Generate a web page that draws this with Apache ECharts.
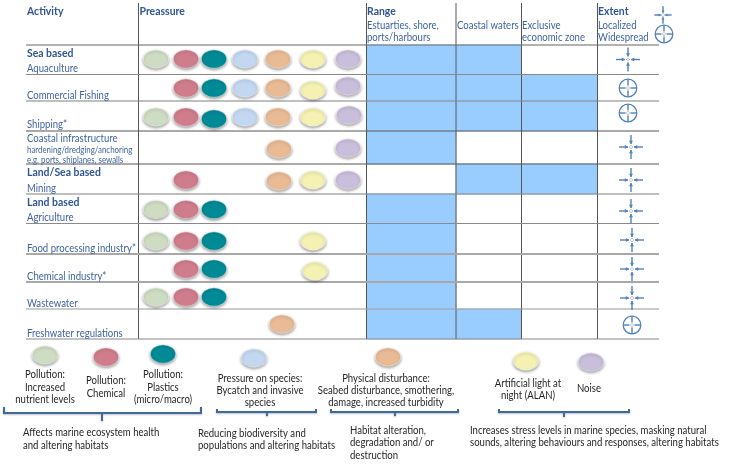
<!DOCTYPE html>
<html>
<head>
<meta charset="utf-8">
<title>Activities and pressures</title>
<style>
    html, body { margin: 0; padding: 0; background: #fff; }
    #main { width: 746px; height: 467px; }
</style>
<script src="https://cdn.jsdelivr.net/npm/echarts@6/dist/echarts.min.js"></script>
</head>
<body>
<div id="main"></div>
<script>
// table content, one entry per row
var activities = ['Aquaculture', 'Commercial Fishing', 'Shipping*', 'Coastal infrastructure', 'Mining',
    'Agriculture', 'Food processing industry*', 'Chemical industry*', 'Wastewater', 'Freshwater regulations'];
var extent = ['L', 'W', 'W', 'L', 'L', 'L', 'L', 'L', 'L', 'W'];

// pressures per activity (1 = applies)
var nutrients = [1, 0, 1, 0, 0, 1, 1, 0, 1, 0];
var chemical  = [1, 1, 1, 0, 1, 1, 1, 1, 1, 0];
var plastics  = [1, 1, 1, 0, 0, 1, 1, 1, 1, 0];
var species   = [1, 1, 1, 0, 0, 0, 0, 0, 0, 0];
var physical  = [1, 1, 1, 1, 1, 0, 0, 0, 0, 1];
var light     = [1, 1, 1, 0, 1, 0, 1, 1, 0, 0];
var noise     = [1, 1, 1, 1, 1, 0, 0, 0, 0, 0];

// range per activity
var rangeEstuaries = [1, 1, 1, 1, 0, 1, 1, 1, 1, 1];
var rangeCoastal   = [1, 1, 1, 0, 1, 0, 0, 0, 0, 1];
var rangeEez       = [0, 1, 1, 0, 1, 0, 0, 0, 0, 0];

// layout of the sheet, in page units
var colEdges = [26, 138.5, 366.5, 456, 521.5, 597.5, 659];
var rowEdges = [45, 74.5, 101, 131, 164, 194, 223.5, 254, 282, 309, 339];
var rowLines = ['#666', '#8a8a8a', '#808080', '#555', '#555', '#808080', '#8a8a8a', '#a8a8a8', '#a8a8a8', '#999', '#888'];
var rowWidths = [1.2, 1.2, 1.2, 1, 1, 1.2, 1.2, 2, 2, 1.2, 1.2];

var seriesColors = ['#cddcc2', '#cf7d8d', '#008a96', '#c3d7f0', '#e9bb95', '#f4f1b2', '#c9bedb'];
var seriesX = [156, 186, 214, 245, 278, 313, 348];
var dotY = [59, 88, 117, 148, 180, 209.5, 241, 269, 297, 324];
var legendX = [45, 106, 163, 254, 388, 526, 591];
var legendY = [355, 357, 354, 358, 357, 361, 362];
// the dots are hand placed in the source, these ones sit off their column or row: 'row,pressure': [dx, dy]
var dotNudge = { '2,2': [0, 2], '1,5': [0, 2], '1,6': [0, -2], '2,6': [1, -2], '7,5': [2, 2], '9,4': [4, 0], '3,4': [1, 1], '4,4': [1, 1] };

var pressures = [nutrients, chemical, plastics, species, physical, light, noise];
var ranges = [rangeEstuaries, rangeCoastal, rangeEez];
var BLUE = '#2f5597';
var SOFT = '#3f62a3';
var INK = '#262626';
var ICON = '#4f81bd';

var chart = echarts.init(document.getElementById('main'));

function buildTexts() {
    var out = [];
    function add(x, y, text, color, font, align, squeeze) {
        out.push({
            type: 'text', silent: true, z: 20,
            x: x, y: y, scaleX: squeeze || 0.87,
            style: {
                x: 0, y: 0, text: text, fill: color, font: font,
                align: align || 'left', verticalAlign: 'middle',
                textAlign: align || 'left', textVerticalAlign: 'middle'
            }
        });
    }
    var bold = 'bold 12px Lato', reg = '11px Lato', small = '9.5px Lato';
    add(27, 11, 'Activity', BLUE, bold);
    add(139.5, 11, 'Preassure', BLUE, bold);
    add(367, 11, 'Range', BLUE, bold);
    add(598, 11, 'Extent', BLUE, bold);
    add(367, 25, 'Estuarties, shore,', SOFT, reg);
    add(367, 37, 'ports/harbours', SOFT, reg);
    add(457, 25, 'Coastal waters', SOFT, reg);
    add(522, 25, 'Exclusive', SOFT, reg);
    add(522, 37, 'economic zone', SOFT, reg);
    add(598, 25, 'Localized', SOFT, reg);
    add(598, 37, 'Widespread', SOFT, reg);

    add(27, 53, 'Sea based', BLUE, bold);
    add(27, 172, 'Land/Sea based', BLUE, bold);
    add(27, 202, 'Land based', BLUE, bold);
    var labelY = [68, 95, 124.5, 138, 188, 217, 248, 276, 303, 333];
    activities.forEach(function (name, i) {
        add(27, labelY[i], name, SOFT, reg);
    });
    add(27, 150, 'hardening/dredging/anchoring', SOFT, small, 'left', 0.83);
    add(27, 160, 'e.g. ports, shiplanes, sewalls', SOFT, small, 'left', 0.83);

    add(45, 374.5, 'Pollution:', INK, reg, 'center');
    add(45, 387, 'Increased', INK, reg, 'center');
    add(45, 399, 'nutrient levels', INK, reg, 'center');
    add(106, 380, 'Pollution:', INK, reg, 'center');
    add(106, 393, 'Chemical', INK, reg, 'center');
    add(163, 374.5, 'Pollution:', INK, reg, 'center');
    add(163, 387, 'Plastics', INK, reg, 'center');
    add(163, 399, '(micro/macro)', INK, reg, 'center');
    add(260, 378, 'Pressure on species:', INK, reg, 'center');
    add(260, 390, 'Bycatch and invasive', INK, reg, 'center');
    add(260, 402, 'species', INK, reg, 'center');
    add(386, 378, 'Physical disturbance:', INK, reg, 'center');
    add(386, 390, 'Seabed disturbance, smothering,', INK, reg, 'center');
    add(386, 402, 'damage, increased turbidity', INK, reg, 'center');
    add(528, 383, 'Artificial light at', INK, reg, 'center');
    add(528, 395, 'night (ALAN)', INK, reg, 'center');
    add(589, 388, 'Noise', INK, reg, 'center');

    add(23, 432, 'Affects marine ecosystem health', INK, reg);
    add(23, 445, 'and altering habitats', INK, reg);
    add(198, 433.5, 'Reducing biodiversity and', INK, reg);
    add(198, 445.5, 'populations and altering habitats', INK, reg);
    add(350, 430, 'Habitat alteration,', INK, reg);
    add(350, 442, 'degradation and/ or', INK, reg);
    add(350, 455, 'destruction', INK, reg);
    add(470, 430, 'Increases stress levels in marine species, masking natural', INK, reg);
    add(470, 442, 'sounds, altering behaviours and responses, altering habitats', INK, reg);
    return out;
}

// blue cells of the range columns
var cellData = [];
ranges.forEach(function (values, c) {
    values.forEach(function (on, r) {
        if (on) {
            cellData.push([colEdges[c + 2], colEdges[c + 3], rowEdges[r], rowEdges[r + 1]]);
        }
    });
});

// table rules: [x0, y0, x1, y1, color, width]
var lineData = [];
colEdges.slice(1, 6).forEach(function (x) {
    lineData.push([x, 3, x, 339, '#555', 1]);
});
rowEdges.forEach(function (y, i) {
    lineData.push([colEdges[0], y, colEdges[6], y, rowLines[i], rowWidths[i]]);
});

// brackets under the key: [x0, x1, tickX, y, tickEnd]
var brackets = [
    [4, 201, 102, 413, 421],
    [217, 316, 267, 412, 416],
    [331, 458, 395, 412, 416],
    [499, 629, 564, 412, 417]
];

// extent icons: [x, y, type, scale]
var iconX = [628, 628, 628, 631, 631, 631, 632, 632, 632, 632];
var iconY = [59.5, 88, 113, 147, 180, 211, 240, 269, 298, 325];
var iconData = extent.map(function (t, i) {
    return [iconX[i], iconY[i], t === 'L' ? 0 : 1, 1];
});
iconData.push([663, 15, 0, 0.72]);
iconData.push([664, 34, 1, 1]);

function renderIcon(params, api) {
    var p = api.coord([api.value(0), api.value(1)]);
    var wide = api.value(2) === 1;
    var k = api.value(3);
    var style = { stroke: ICON, lineWidth: 1.4, fill: null };
    var children = [];
    var reach = (wide ? 8.5 : 12) * k;
    var near = (wide ? 2.5 : 3) * k;
    [[0, -1], [0, 1], [-1, 0], [1, 0]].forEach(function (d) {
        children.push({
            type: 'line',
            shape: { x1: p[0] + d[0] * reach, y1: p[1] + d[1] * reach, x2: p[0] + d[0] * near, y2: p[1] + d[1] * near },
            style: style
        });
        // arrow head pointing at the middle
        if (!wide) {
            var tx = p[0] + d[0] * near, ty = p[1] + d[1] * near, a = 3.2 * k, b = 2 * k;
            children.push({
                type: 'polygon',
                shape: { points: [
                    [tx, ty],
                    [tx + d[0] * a - d[1] * b, ty + d[1] * a - d[0] * b],
                    [tx + d[0] * a + d[1] * b, ty + d[1] * a + d[0] * b]
                ] },
                style: { fill: ICON }
            });
        }
        children.push({
            type: 'circle',
            shape: { cx: p[0] + d[0] * 1.2, cy: p[1] + d[1] * 1.2, r: 0.45 },
            style: { fill: '#222' }
        });
    });
    if (wide) {
        children.push({ type: 'circle', shape: { cx: p[0], cy: p[1], r: 8.8 }, style: { stroke: ICON, lineWidth: 1.3, fill: null } });
    }
    return { type: 'group', children: children };
}

var series = [
    {
        type: 'custom', name: 'range', z: 1, silent: true, clip: false,
        data: cellData,
        renderItem: function (params, api) {
            var a = api.coord([api.value(0), api.value(2)]);
            var b = api.coord([api.value(1), api.value(3)]);
            return {
                type: 'rect',
                shape: { x: a[0], y: a[1], width: b[0] - a[0], height: b[1] - a[1] },
                style: { fill: '#99ccff', stroke: '#a9d4ff', lineWidth: 1 }
            };
        }
    },
    {
        type: 'custom', name: 'rules', z: 2, silent: true, clip: false,
        data: lineData,
        encode: { x: [0, 2], y: [1, 3] },
        renderItem: function (params, api) {
            var a = api.coord([api.value(0), api.value(1)]);
            var b = api.coord([api.value(2), api.value(3)]);
            var item = lineData[params.dataIndex];
            return {
                type: 'line',
                shape: { x1: a[0], y1: a[1], x2: b[0], y2: b[1] },
                style: { stroke: item[4], lineWidth: item[5] }
            };
        }
    },
    {
        type: 'custom', name: 'brackets', z: 2, silent: true, clip: false,
        data: brackets,
        renderItem: function (params, api) {
            var y = api.value(3);
            var l = api.coord([api.value(0), y]), r = api.coord([api.value(1), y]);
            var t = api.coord([api.value(2), y]), e = api.coord([api.value(2), api.value(4)]);
            var stub = params.dataIndex === 0 ? 6 : 3;
            var style = { stroke: '#3f6aa0', lineWidth: 2, fill: null, shadowColor: 'rgba(0,0,0,0.25)', shadowBlur: 2, shadowOffsetY: 1 };
            return {
                type: 'group',
                children: [
                    { type: 'polyline', shape: { points: [[l[0], l[1] - stub], l, r, [r[0], r[1] - stub]] }, style: style },
                    { type: 'line', shape: { x1: t[0], y1: t[1], x2: e[0], y2: e[1] }, style: style }
                ]
            };
        }
    },
    {
        type: 'custom', name: 'extent', z: 3, silent: true, clip: false,
        data: iconData,
        renderItem: renderIcon
    }
];

// one scatter per pressure, plus its dot in the key
pressures.forEach(function (flags, p) {
    var pts = [];
    flags.forEach(function (on, r) {
        if (on) {
            var n = dotNudge[r + ',' + p] || [0, 0];
            pts.push([seriesX[p] + n[0], dotY[r] + n[1]]);
        }
    });
    pts.push([legendX[p], legendY[p]]);
    series.push({
        type: 'scatter', z: 5, silent: true, clip: false,
        symbol: 'circle',
        symbolSize: [25.5, 18.5],
        data: pts,
        itemStyle: {
            color: seriesColors[p],
            opacity: 1,
            borderColor: 'rgba(255,255,255,0.45)',
            borderWidth: 1,
            shadowColor: 'rgba(0,0,0,0.4)',
            shadowBlur: 3,
            shadowOffsetY: 1.5
        }
    });
});

var option = {
    animation: false,
    backgroundColor: '#fff',
    grid: { left: 0, right: 0, top: 0, bottom: 0 },
    xAxis: { type: 'value', min: 0, max: 746, show: false },
    yAxis: { type: 'value', min: 0, max: 467, inverse: true, show: false },
    graphic: { elements: buildTexts() },
    series: series
};
chart.setOption(option);
window.addEventListener('resize', function () {
    chart.resize();
});
</script>
</body>
</html>
